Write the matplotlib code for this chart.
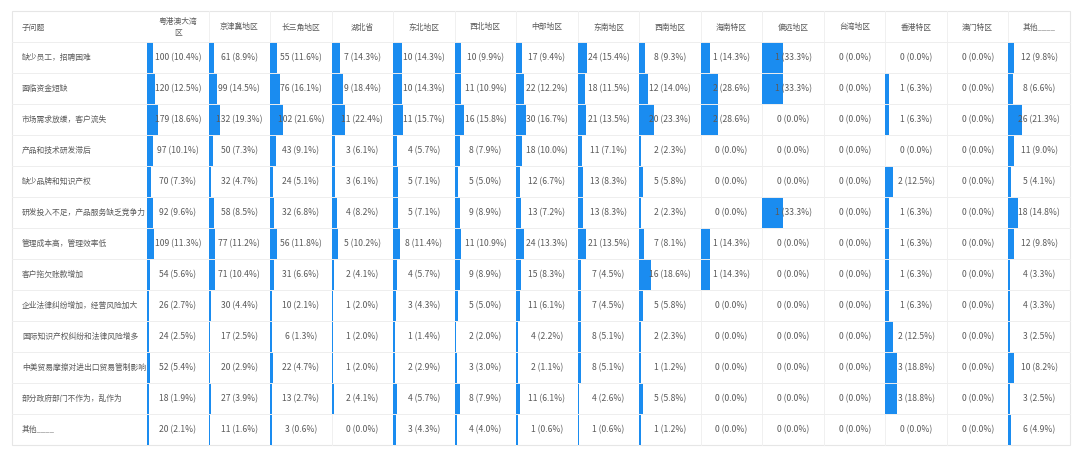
import matplotlib
matplotlib.use("Agg")
import matplotlib.pyplot as plt
import numpy as np

plt.rcParams['font.family'] = ['Noto Sans CJK SC', 'DejaVu Sans']

# 列标题 / 行标题
regions = ["粤港澳大湾\n区", "京津冀地区", "长三角地区", "湖北省", "东北地区", "西北地区",
           "中部地区", "东南地区", "西南地区", "海南特区", "偏远地区", "台湾地区",
           "香港特区", "澳门特区", "其他____"]
questions = ["缺少员工，招聘困难", "面临资金短缺", "市场需求放缓，客户流失", "产品和技术研发滞后",
             "缺少品牌和知识产权", "研发投入不足，产品服务缺乏竞争力", "管理成本高，管理效率低",
             "客户拖欠账款增加", "企业法律纠纷增加，经营风险加大", "国际知识产权纠纷和法律风险增多",
             "中美贸易摩擦对进出口贸易管制影响", "部分政府部门不作为，乱作为", "其他____"]

# 每列: 人数
counts = {
    "粤港澳大湾\n区": [100, 120, 179, 97, 70, 92, 109, 54, 26, 24, 52, 18, 20],
    "京津冀地区": [61, 99, 132, 50, 32, 58, 77, 71, 30, 17, 20, 27, 11],
    "长三角地区": [55, 76, 102, 43, 24, 32, 56, 31, 10, 6, 22, 13, 3],
    "湖北省": [7, 9, 11, 3, 3, 4, 5, 2, 1, 1, 1, 2, 0],
    "东北地区": [10, 10, 11, 4, 5, 5, 8, 4, 3, 1, 2, 4, 3],
    "西北地区": [10, 11, 16, 8, 5, 9, 11, 9, 5, 2, 3, 8, 4],
    "中部地区": [17, 22, 30, 18, 12, 13, 24, 15, 11, 4, 2, 11, 1],
    "东南地区": [24, 18, 21, 11, 13, 13, 21, 7, 7, 8, 8, 4, 1],
    "西南地区": [8, 12, 20, 2, 5, 2, 7, 16, 5, 2, 1, 5, 1],
    "海南特区": [1, 2, 2, 0, 0, 0, 1, 1, 0, 0, 0, 0, 0],
    "偏远地区": [1, 1, 0, 0, 0, 1, 0, 0, 0, 0, 0, 0, 0],
    "台湾地区": [0] * 13,
    "香港特区": [0, 1, 1, 0, 2, 1, 1, 1, 1, 2, 3, 3, 0],
    "澳门特区": [0] * 13,
    "其他____": [12, 8, 26, 11, 5, 18, 12, 4, 4, 3, 10, 3, 6],
}
# 每列: 百分比
pcts = {
    "粤港澳大湾\n区": [10.4, 12.5, 18.6, 10.1, 7.3, 9.6, 11.3, 5.6, 2.7, 2.5, 5.4, 1.9, 2.1],
    "京津冀地区": [8.9, 14.5, 19.3, 7.3, 4.7, 8.5, 11.2, 10.4, 4.4, 2.5, 2.9, 3.9, 1.6],
    "长三角地区": [11.6, 16.1, 21.6, 9.1, 5.1, 6.8, 11.8, 6.6, 2.1, 1.3, 4.7, 2.7, 0.6],
    "湖北省": [14.3, 18.4, 22.4, 6.1, 6.1, 8.2, 10.2, 4.1, 2.0, 2.0, 2.0, 4.1, 0.0],
    "东北地区": [14.3, 14.3, 15.7, 5.7, 7.1, 7.1, 11.4, 5.7, 4.3, 1.4, 2.9, 5.7, 4.3],
    "西北地区": [9.9, 10.9, 15.8, 7.9, 5.0, 8.9, 10.9, 8.9, 5.0, 2.0, 3.0, 7.9, 4.0],
    "中部地区": [9.4, 12.2, 16.7, 10.0, 6.7, 7.2, 13.3, 8.3, 6.1, 2.2, 1.1, 6.1, 0.6],
    "东南地区": [15.4, 11.5, 13.5, 7.1, 8.3, 8.3, 13.5, 4.5, 4.5, 5.1, 5.1, 2.6, 0.6],
    "西南地区": [9.3, 14.0, 23.3, 2.3, 5.8, 2.3, 8.1, 18.6, 5.8, 2.3, 1.2, 5.8, 1.2],
    "海南特区": [14.3, 28.6, 28.6, 0, 0, 0, 14.3, 14.3, 0, 0, 0, 0, 0],
    "偏远地区": [33.3, 33.3, 0, 0, 0, 33.3, 0, 0, 0, 0, 0, 0, 0],
    "台湾地区": [0.0] * 13,
    "香港特区": [0, 6.3, 6.3, 0, 12.5, 6.3, 6.3, 6.3, 6.3, 12.5, 18.8, 18.8, 0],
    "澳门特区": [0.0] * 13,
    "其他____": [9.8, 6.6, 21.3, 9.0, 4.1, 14.8, 9.8, 3.3, 3.3, 2.5, 8.2, 2.5, 4.9],
}

W, H = 1080, 455
fig = plt.figure(figsize=(W / 100, H / 100), dpi=100)
ax = fig.add_axes([0, 0, 1, 1])
ax.set_xlim(0, W)
ax.set_ylim(H, 0)
ax.axis("off")

# 版式 (像素)
x0, x_lab = 12, 147
x1 = 1070
y0, y_head = 11, 42
row_h = 31
col_w = (x1 - x_lab) / len(regions)
n_rows = len(questions)
y1 = y_head + n_rows * row_h

bar_color = "#1a8cf0"
txt_color = "#5a5a5a"
grid_color = "#eeeeee"
fs = 6.2
fs_cjk = 5.6

# 外框
ax.add_patch(plt.Rectangle((x0, y0), x1 - x0, y1 - y0, fill=False,
                           edgecolor="#e6e6e6", lw=0.8))

row_centers = y_head + row_h * (np.arange(n_rows) + 0.5)

# 数据条
for j, reg in enumerate(regions):
    left = x_lab + j * col_w
    p = np.array(pcts[reg], dtype=float)
    widths = np.where(p > 0, np.maximum(p / 100 * col_w, 1.6), 0)
    ax.barh(row_centers, widths, left=left, height=row_h, color=bar_color,
            edgecolor="none", zorder=2)
    for i in range(n_rows):
        ax.text(left + col_w / 2, row_centers[i], f"{counts[reg][i]} ({p[i]:.1f}%)",
                ha="center", va="center", fontsize=fs, color=txt_color, zorder=4)
    ax.text(left + col_w / 2, (y0 + y_head) / 2 + 1, reg, ha="center", va="center",
            fontsize=fs_cjk, color=txt_color, linespacing=1.4, zorder=4)

# 行标题
ax.text(x0 + 10, (y0 + y_head) / 2 + 1, "子问题", ha="left", va="center",
        fontsize=fs_cjk, color=txt_color)
for i, q in enumerate(questions):
    ax.text(x0 + 10, row_centers[i], q, ha="left", va="center",
            fontsize=fs_cjk, color=txt_color)

# 网格线
for i in range(n_rows):
    yy = y_head + i * row_h
    ax.plot([x0, x1], [yy, yy], color=grid_color, lw=0.7, zorder=3)
for j in range(1, len(regions)):
    xx = x_lab + j * col_w
    ax.plot([xx, xx], [y0, y1], color="#f0f0f0", lw=0.7, zorder=1)

fig.savefig("out.png", dpi=100, facecolor="white")
